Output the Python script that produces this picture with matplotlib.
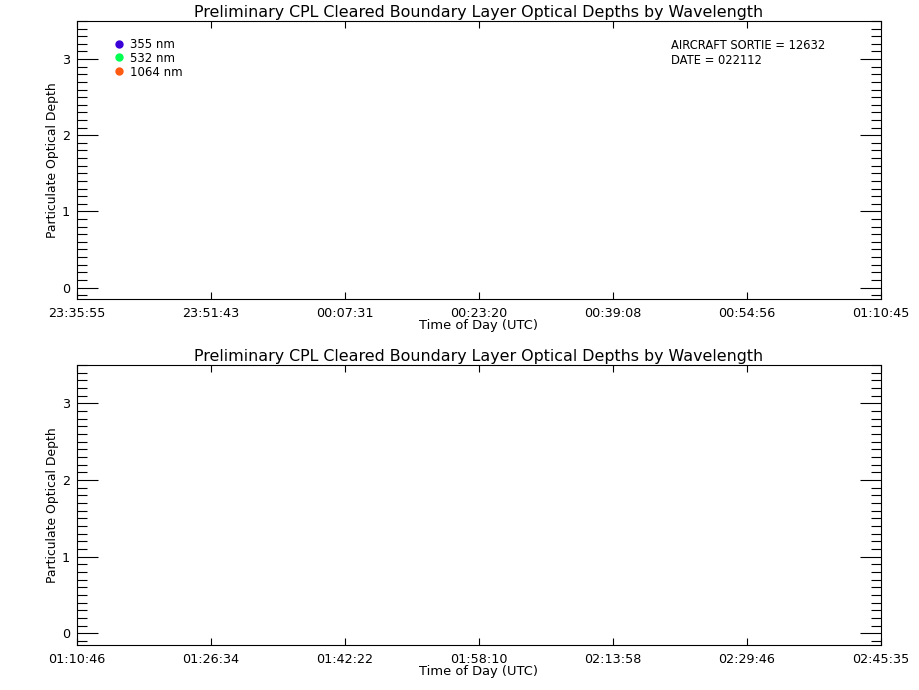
import matplotlib
matplotlib.use("Agg")
import matplotlib.pyplot as plt
from matplotlib.ticker import MultipleLocator, FixedLocator, NullLocator
from matplotlib.lines import Line2D

plt.rcParams['font.family'] = ['DejaVu Sans']

title = "Preliminary CPL Cleared Boundary Layer Optical Depths by Wavelength"
ylabel = "Particulate Optical Depth"
xlabel = "Time of Day (UTC)"

top_ticks = ["23:35:55", "23:51:43", "00:07:31", "00:23:20", "00:39:08", "00:54:56", "01:10:45"]
bot_ticks = ["01:10:46", "01:26:34", "01:42:22", "01:58:10", "02:13:58", "02:29:46", "02:45:35"]

wavelengths = ["355 nm", "532 nm", "1064 nm"]
colors = ["#3a00d8", "#00ff50", "#ff5a10"]
# no retrieved optical depths in this segment (empty series)
od_time = [[], [], []]
od_vals = [[], [], []]

sortie_text = "AIRCRAFT SORTIE = 12632\nDATE = 022112"


def to_sec(labels):
    out = []
    prev = None
    add = 0
    for s in labels:
        h, m, sec = map(int, s.split(":"))
        v = h * 3600 + m * 60 + sec + add
        if prev is not None and v < prev:
            add += 86400
            v += 86400
        out.append(v)
        prev = v
    return out


fig = plt.figure(figsize=(9.2, 6.9), dpi=100)
W, H = 920, 690
panels = [
    (top_ticks, (77, 21, 881, 299), True),
    (bot_ticks, (77, 365, 881, 645), False),
]
fs = 9.2
for labels, (x0, y0, x1, y1), first in panels:
    ax = fig.add_axes([x0 / W, 1 - y1 / H, (x1 - x0) / W, (y1 - y0) / H])
    xs = to_sec(labels)
    ax.set_xlim(xs[0], xs[-1])
    ax.set_ylim(-0.15, 3.5)
    for t, v, c, lab in zip(od_time, od_vals, colors, wavelengths):
        ax.plot(t, v, 'o', color=c, ms=4, label=lab)
    ax.xaxis.set_major_locator(FixedLocator(xs))
    ax.set_xticklabels(labels)
    ax.xaxis.set_minor_locator(NullLocator())
    ax.yaxis.set_major_locator(MultipleLocator(1))
    ax.yaxis.set_minor_locator(MultipleLocator(0.1))
    ax.tick_params(axis='x', which='major', direction='in', length=5, width=0.8,
                   top=True, bottom=True, labelsize=fs, pad=6)
    ax.tick_params(axis='y', which='major', direction='in', length=15, width=0.8,
                   left=True, right=True, labelsize=fs, pad=5)
    ax.tick_params(axis='y', which='minor', direction='in', length=7, width=0.8,
                   left=True, right=True)
    for sp in ax.spines.values():
        sp.set_linewidth(0.8)
    ax.set_title(title, fontsize=11.4, pad=3)
    ax.set_xlabel(xlabel, fontsize=9.4, labelpad=-1)
    ax.set_ylabel(ylabel, fontsize=8.9, labelpad=2)
    if first:
        handles = [Line2D([], [], marker='o', ls='none', color=c, ms=5) for c in colors]
        ax.legend(handles, wavelengths, loc='upper left', bbox_to_anchor=(0.048, 0.94),
                  frameon=False, fontsize=8.5, handlelength=0.6, handletextpad=0.65,
                  labelspacing=0.08, borderpad=0, borderaxespad=0)
        ax.text(0.739, 0.935, sortie_text, transform=ax.transAxes, fontsize=8.3,
                va='top', ha='left', linespacing=1.15)

fig.savefig("out.png", dpi=100)
